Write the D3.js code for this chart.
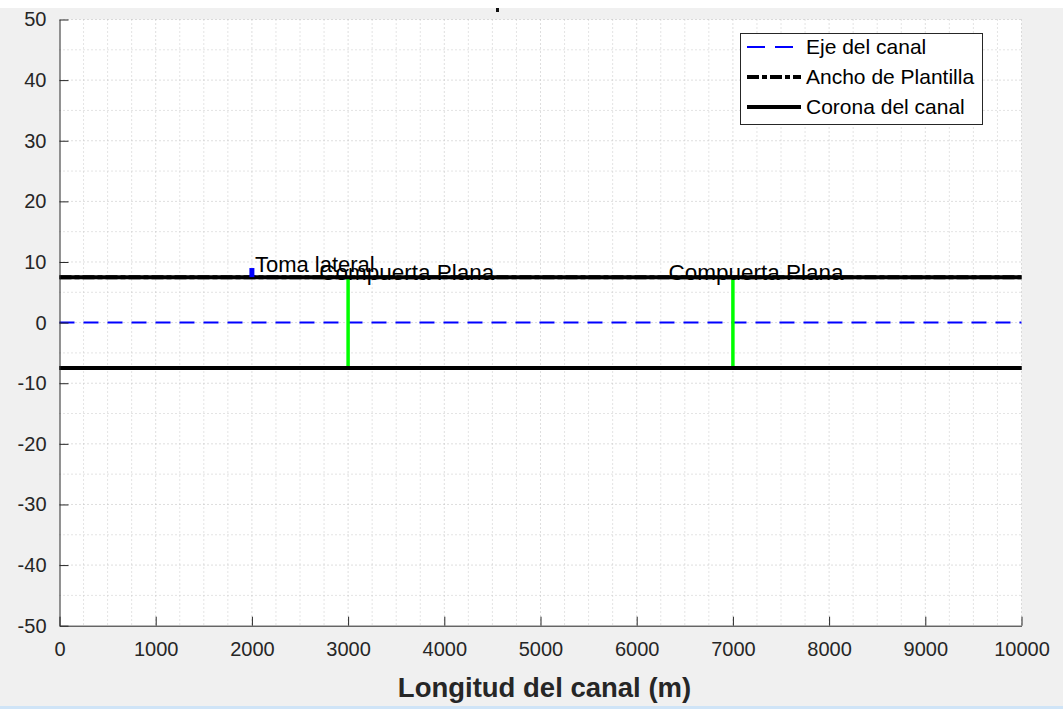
<!DOCTYPE html>
<html>
<head>
<meta charset="utf-8">
<script src="https://cdn.jsdelivr.net/npm/d3@7"></script>
<style>
  html, body { margin: 0; padding: 0; background: #f0f0f0; }
  svg { display: block; }
  text { font-family: "Liberation Sans", Arial, Helvetica, sans-serif; }
</style>
</head>
<body>
<svg id="chart" width="1063" height="709"></svg>
<script>
// axis ranges and ticks
const xDomain = [0, 10000];
const yDomain = [-50, 50];
const xTickValues = [0, 1000, 2000, 3000, 4000, 5000, 6000, 7000, 8000, 9000, 10000];
const yTickValues = [-50, -40, -30, -20, -10, 0, 10, 20, 30, 40, 50];
const xMinorValues = [250, 500, 750, 1250, 1500, 1750, 2250, 2500, 2750, 3250, 3500, 3750,
  4250, 4500, 4750, 5250, 5500, 5750, 6250, 6500, 6750, 7250, 7500, 7750,
  8250, 8500, 8750, 9250, 9500, 9750];
const yMinorValues = [-45, -35, -25, -15, -5, 5, 15, 25, 35, 45];

// canal geometry
const ejeX = [0, 10000];
const ejeY = [0, 0];
const plantillaX = [0, 10000];
const plantillaY = [7.5, -7.5];
const coronaX = [0, 10000];
const coronaY = [7.5, -7.5];

// structures
const compuertaX = [3000, 7000];
const compuertaY = [-7.5, 7.5];
const compuertaLabelX = [2700, 6330];
const compuertaLabelY = 7.1;
const tomaX = 2000;
const tomaY = [7.5, 9];
const tomaLabelY = 8.4;

const legendItems = ["Eje del canal", "Ancho de Plantilla", "Corona del canal"];

const svg = d3.select("#chart");
const m = {l: 59.5, r: 1021.5, t: 19.5, b: 625.7};

// white strip at the very top of the screenshot
svg.append("rect").attr("x", 0).attr("y", 0).attr("width", 1063).attr("height", 8).attr("fill", "#ffffff");
// bottom light blue edge
svg.append("rect").attr("x", 0).attr("y", 706).attr("width", 1063).attr("height", 3).attr("fill", "#cfe4f7");
// remnant of the clipped title
svg.append("rect").attr("x", 496).attr("y", 8).attr("width", 3).attr("height", 4).attr("fill", "#111");

const x = d3.scaleLinear().domain(xDomain).range([m.l, m.r]);
const y = d3.scaleLinear().domain(yDomain).range([m.b, m.t]);

// plot area
svg.append("rect").attr("x", m.l).attr("y", m.t)
  .attr("width", m.r - m.l).attr("height", m.b - m.t).attr("fill", "#ffffff");

const grid = svg.append("g");
// minor grid
grid.selectAll(".vmin").data(xMinorValues).enter().append("line")
  .attr("x1", d => x(d)).attr("x2", d => x(d)).attr("y1", m.t).attr("y2", m.b)
  .attr("stroke", "#c8c8c8").attr("stroke-width", 1).attr("stroke-dasharray", "1,3");
grid.selectAll(".hmin").data(yMinorValues).enter().append("line")
  .attr("y1", d => y(d)).attr("y2", d => y(d)).attr("x1", m.l).attr("x2", m.r)
  .attr("stroke", "#c8c8c8").attr("stroke-width", 1).attr("stroke-dasharray", "1,3");
// major grid
grid.selectAll(".vmaj").data(xTickValues.slice(1)).enter().append("line")
  .attr("x1", d => x(d)).attr("x2", d => x(d)).attr("y1", m.t).attr("y2", m.b)
  .attr("stroke", "#bdbdbd").attr("stroke-width", 1).attr("stroke-dasharray", "1,3");
grid.selectAll(".hmaj").data(yTickValues.slice(1)).enter().append("line")
  .attr("y1", d => y(d)).attr("y2", d => y(d)).attr("x1", m.l).attr("x2", m.r)
  .attr("stroke", "#bdbdbd").attr("stroke-width", 1).attr("stroke-dasharray", "1,3");

const line = d3.line().x(d => x(d[0])).y(d => y(d[1]));

// eje del canal
svg.append("path").datum(ejeX.map((v, i) => [v, ejeY[i]])).attr("d", line)
  .attr("fill", "none").attr("stroke", "#0000ff").attr("stroke-width", 2)
  .attr("stroke-dasharray", "15,9");

// ancho de plantilla (under the corona)
plantillaY.forEach(function(v) {
  svg.append("path").datum(plantillaX.map(xx => [xx, v])).attr("d", line)
    .attr("fill", "none").attr("stroke", "#000").attr("stroke-width", 4)
    .attr("stroke-dasharray", "12,3,5,3");
});

// compuertas planas
compuertaX.forEach(function(cx) {
  svg.append("path").datum(compuertaY.map(v => [cx, v])).attr("d", line)
    .attr("fill", "none").attr("stroke", "#00ff00").attr("stroke-width", 3.5);
});

// corona del canal
coronaY.forEach(function(v) {
  svg.append("path").datum(coronaX.map(xx => [xx, v])).attr("d", line)
    .attr("fill", "none").attr("stroke", "#000").attr("stroke-width", 4);
});

// toma lateral
svg.append("path").datum(tomaY.map(v => [tomaX, v])).attr("d", line)
  .attr("fill", "none").attr("stroke", "#0000ff").attr("stroke-width", 5);
svg.append("text").attr("x", x(tomaX) + 3).attr("y", y(tomaLabelY))
  .attr("font-size", 22).attr("fill", "#000").text("Toma lateral");

compuertaLabelX.forEach(function(lx) {
  svg.append("text").attr("x", x(lx)).attr("y", y(compuertaLabelY))
    .attr("font-size", 22.5).attr("fill", "#000").text("Compuerta Plana");
});

// axes (plain hyphen for negatives, like the original)
const fmt = d => String(d);
const xAxis = d3.axisBottom(x).tickValues(xTickValues).tickFormat(fmt)
  .tickSizeInner(-9).tickSizeOuter(0).tickPadding(16);
const gx = svg.append("g").attr("transform", "translate(0," + m.b + ")").call(xAxis);
gx.select(".domain").attr("stroke", "#262626");
gx.selectAll(".tick line").attr("stroke", "#262626");
gx.selectAll("text").attr("font-size", 20).attr("fill", "#262626")
  .attr("font-family", "Liberation Sans, Arial, sans-serif");

const yAxis = d3.axisLeft(y).tickValues(yTickValues).tickFormat(fmt)
  .tickSizeInner(-9).tickSizeOuter(0).tickPadding(13);
const gy = svg.append("g").attr("transform", "translate(" + m.l + ",0)").call(yAxis);
gy.select(".domain").attr("stroke", "#262626");
gy.selectAll(".tick line").attr("stroke", "#262626");
gy.selectAll("text").attr("font-size", 20).attr("fill", "#262626")
  .attr("font-family", "Liberation Sans, Arial, sans-serif");

// x label
svg.append("text").attr("x", (m.l + m.r) / 2 + 4).attr("y", 697)
  .attr("text-anchor", "middle").attr("font-size", 27.5).attr("font-weight", "bold")
  .attr("fill", "#262626").text("Longitud del canal (m)");

// legend
const lg = svg.append("g");
lg.append("rect").attr("x", 740.5).attr("y", 33.5).attr("width", 242).attr("height", 91)
  .attr("fill", "#fff").attr("stroke", "#262626").attr("stroke-width", 1);
const legY = d3.scalePoint().domain(legendItems).range([47, 107]);
const legStyle = {
  "Eje del canal": {c: "#0000ff", w: 2, dash: "18,10"},
  "Ancho de Plantilla": {c: "#000", w: 4, dash: "12,3,5,3"},
  "Corona del canal": {c: "#000", w: 4, dash: null}
};
legendItems.forEach(function(k) {
  const s = legStyle[k];
  lg.append("line").attr("x1", 747).attr("x2", 801).attr("y1", legY(k)).attr("y2", legY(k))
    .attr("stroke", s.c).attr("stroke-width", s.w).attr("stroke-dasharray", s.dash);
  lg.append("text").attr("x", 806).attr("y", legY(k) + 7).attr("font-size", 21)
    .attr("fill", "#000").text(k);
});
</script>
</body>
</html>
